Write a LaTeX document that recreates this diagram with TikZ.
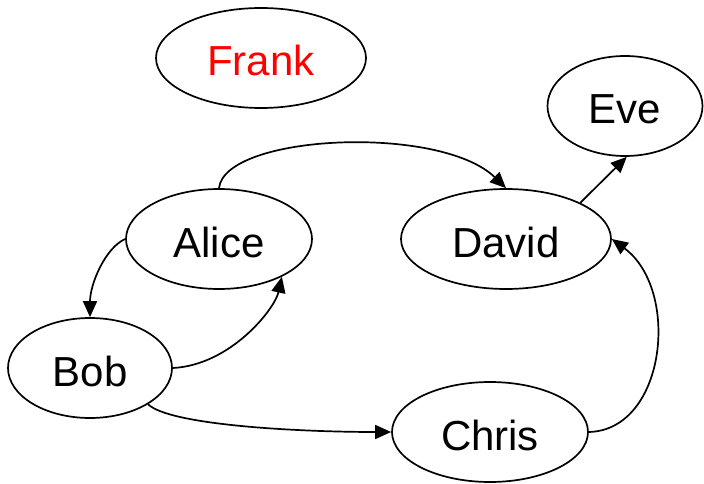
\documentclass[tikz,border=0pt]{standalone}
\usepackage{fontspec}
\setmainfont{Liberation Sans}
\usetikzlibrary{shapes.geometric,arrows.meta}
\begin{document}
\begin{tikzpicture}[x=1pt,y=-1pt,
  person/.style={draw=black, line width=1.7pt, ellipse, inner sep=0pt,
    minimum height=100pt, text height=36pt, text depth=0pt,
    font=\fontsize{42}{50}\selectfont},
  link/.style={draw=black, line width=1.7pt, -{Triangle[length=16pt,width=14pt]}}]
\useasboundingbox (0,0) rectangle (704,484);
\node[person, minimum width=210pt, text=red] (Frank) at (261,58) {Frank};
\node[person, minimum width=155pt] (Eve) at (625,106) {Eve};
\node[person, minimum width=186pt] (Alice) at (219,239) {Alice};
\node[person, minimum width=210pt] (David) at (506,239) {David};
\node[person, minimum width=164pt] (Bob) at (90,368) {Bob};
\node[person, minimum width=196pt] (Chris) at (490,432) {Chris};
\draw[link] (Alice.north) .. controls +(6,-54) and +(-66,-64) .. (David.north);
\draw[link] (Alice.west) .. controls +(-20,9) and +(0,-33) .. (Bob.north);
\draw[link] (Bob.east) .. controls +(58,-3) and +(-7,32) .. (Alice.-31);
\draw[link] (Bob.-32) .. controls +(22,21) and +(-92,0) .. (Chris.west);
\draw[link] (Chris.east) .. controls +(77,-2) and +(69,51) .. (David.east);
\draw[link] (David.26) -- (Eve.-88);
\end{tikzpicture}
\end{document}
